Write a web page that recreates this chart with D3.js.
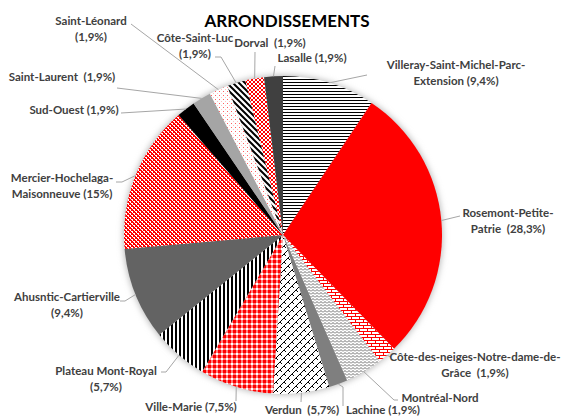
<!DOCTYPE html>
<html><head><meta charset="utf-8">
<script src="https://cdn.jsdelivr.net/npm/d3@7"></script>
<style>
html,body{margin:0;padding:0;background:#fff;}
svg{display:block;}
text{font-family:Lato,"Open Sans",sans-serif;white-space:pre;}
</style></head>
<body>
<svg id="chart" width="562" height="416"></svg>
<script>
// ---- data ----
const categories = ["Villeray-Saint-Michel-Parc-Extension","Rosemont-Petite-Patrie","Côte-des-neiges-Notre-dame-de-Grâce","Montréal-Nord","Lachine","Verdun","Ville-Marie","Plateau Mont-Royal","Ahusntic-Cartierville","Mercier-Hochelaga-Maisonneuve","Sud-Ouest","Saint-Laurent","Saint-Léonard","Côte-Saint-Luc","Dorval","Lasalle"];
const values = [9.4, 28.3, 1.9, 3.8, 1.9, 5.7, 7.5, 5.7, 9.4, 15, 1.9, 1.9, 1.9, 1.9, 1.9, 1.9];
const labelLines = [
  ["Villeray-Saint-Michel-Parc-","Extension (9,4%)"],
  ["Rosemont-Petite-","Patrie  (28,3%)"],
  ["Côte-des-neiges-Notre-dame-de-","Grâce  (1,9%)"],
  ["Montréal-Nord"],
  ["Lachine (1,9%)"],
  ["Verdun  (5,7%)"],
  ["Ville-Marie (7,5%)"],
  ["Plateau Mont-Royal","(5,7%)"],
  ["Ahusntic-Cartierville","(9,4%)"],
  ["Mercier-Hochelaga-","Maisonneuve (15%)"],
  ["Sud-Ouest (1,9%)"],
  ["Saint-Laurent  (1,9%)"],
  ["Saint-Léonard","(1,9%)"],
  ["Côte-Saint-Luc","(1,9%)"],
  ["Dorval  (1,9%)"],
  ["Lasalle (1,9%)"]
];
const title = "ARRONDISSEMENTS";

// ---- layout (positions / styles) ----
const cx = 283, cy = 235, R = 159;
const fills = ["url(#pHoriz)","#ff0000","url(#pBrick)","url(#pZig)","#7f7f7f","url(#pDiagBrick)","url(#pPlaid)","url(#pVert)","#636363","url(#pRedDots)","#000000","#a5a5a5","url(#pSparse)","url(#pDiag)","url(#pCheck)","#404040"];
// label text center x, first baseline y; leader path points after the arc point
const labelPos = [
  {x:456,y:69, lead:[[367,75]]},
  {x:508,y:217, lead:[[460,216]]},
  {x:475,y:361, lead:[[391,357]]},
  {x:440,y:402, lead:[[394,400],[398,400]]},
  {x:383,y:414, lead:[[343,387],[343,406]]},
  {x:302,y:414, lead:[[301,402]]},
  {x:191,y:411, lead:[[236,401]]},
  {x:106,y:375, lead:[[166,372],[161,372]]},
  {x:67,y:301, lead:[[125,301],[120,301]]},
  {x:62,y:182, lead:[[122,182],[116,182]]},
  {x:74,y:114, lead:[[121,113]]},
  {x:62,y:81, lead:[[117,88]]},
  {x:91,y:25, lead:[[131,24]]},
  {x:195,y:42, lead:[[221,57],[215,57]]},
  {x:270,y:47, lead:[[255,52]]},
  {x:312,y:62, lead:[[275,66]]}
];

const svg = d3.select("#chart");
const defs = svg.append("defs");

function pat(id, w, h, bg, draw){
  const p = defs.append("pattern").attr("id", id).attr("patternUnits","userSpaceOnUse")
    .attr("width", w).attr("height", h);
  p.append("rect").attr("width", w).attr("height", h).attr("fill", bg);
  draw(p);
}
function px(p, x, y, w, h, c){ p.append("rect").attr("x",x).attr("y",y).attr("width",w).attr("height",h).attr("fill",c); }

// horizontal lines
pat("pHoriz", 8, 3, "#fff", p => px(p,0,0,8,1,"#000"));
// red bricks
pat("pBrick", 8, 6, "#fff", p => {
  px(p,0,0,8,1,"#ff0000"); px(p,0,3,8,1,"#ff0000");
  px(p,0,0,1,3,"#ff0000"); px(p,4,3,1,3,"#ff0000");
});
// gray zigzag
pat("pZig", 4, 3, "#fff", p => p.append("path").attr("d","M0,2.5 L2,0.5 L4,2.5").attr("fill","none").attr("stroke","#6a6a6a").attr("stroke-width",1));
// diagonal brick (black)
pat("pDiagBrick", 8, 8, "#fff", p => {
  p.append("path").attr("d","M-2,6 L6,-2 M2,10 L10,2 M1,3 L3,5 M5,7 L7,9 M5,-1 L7,1").attr("stroke","#000").attr("stroke-width",1).attr("fill","none");
});
// red plaid
pat("pPlaid", 5, 5, "#fff", p => {
  px(p,0,0,3,3,"#ff0000");
  px(p,3,0,2,3,"#ff8080");
  px(p,0,3,3,2,"#ff8080");
});
// vertical stripes
pat("pVert", 4, 4, "#fff", p => px(p,0,0,2,4,"#000"));
// red with white dots
pat("pRedDots", 4, 4, "#ff0000", p => {
  px(p,0,0,2,1,"#fff"); px(p,2,2,2,1,"#fff");
  px(p,1,1,1,1,"#fff"); px(p,3,3,1,1,"#fff");
});
// sparse red dots on white
pat("pSparse", 4, 4, "#fff", p => {
  px(p,0,0,1,1,"#ff6060"); px(p,2,2,1,1,"#ffc0c0");
});
// wide downward diagonal
pat("pDiag", 6, 6, "#fff", p => {
  p.append("path").attr("d","M-1,-1 L7,7 M-4,2 L4,10 M2,-4 L10,4").attr("stroke","#000").attr("stroke-width",2);
});
// red checker
pat("pCheck", 4, 4, "#fff", p => { px(p,0,0,2,2,"#ff0000"); px(p,2,2,2,2,"#ff0000"); });

// shadow filter
const f = defs.append("filter").attr("id","shadow").attr("x","-20%").attr("y","-20%").attr("width","140%").attr("height","140%");
f.append("feGaussianBlur").attr("stdDeviation",3);

// title
svg.append("text").attr("x",287).attr("y",27).attr("text-anchor","middle")
  .attr("font-size",17).attr("font-weight","bold").attr("fill","#000").text(title);

const pie = d3.pie().sort(null).value(d => d)(values);
const arc = d3.arc().innerRadius(0).outerRadius(R);

const g = svg.append("g").attr("transform",`translate(${cx},${cy})`);
g.append("circle").attr("r",R+1).attr("fill","#bbb").attr("filter","url(#shadow)");
g.selectAll("path.slice").data(pie).join("path").attr("class","slice")
  .attr("d", arc).attr("fill",(d,i)=>fills[i]);

// leader lines
const line = d3.line();
pie.forEach((d,i) => {
  const a = (d.startAngle + d.endAngle)/2;
  const p0 = [cx + R*Math.sin(a), cy - R*Math.cos(a)];
  svg.append("path").attr("d", line([p0, ...labelPos[i].lead]))
    .attr("fill","none").attr("stroke","#a6a6a6").attr("stroke-width",1);
});

// labels
labelLines.forEach((lines,i) => {
  const t = svg.append("text").attr("text-anchor","middle").attr("font-size",11.5)
    .attr("font-weight","bold").attr("fill","#404040");
  lines.forEach((s,j) => t.append("tspan").attr("x",labelPos[i].x).attr("y",labelPos[i].y + j*15.5).text(s));
});
</script>
</body></html>
